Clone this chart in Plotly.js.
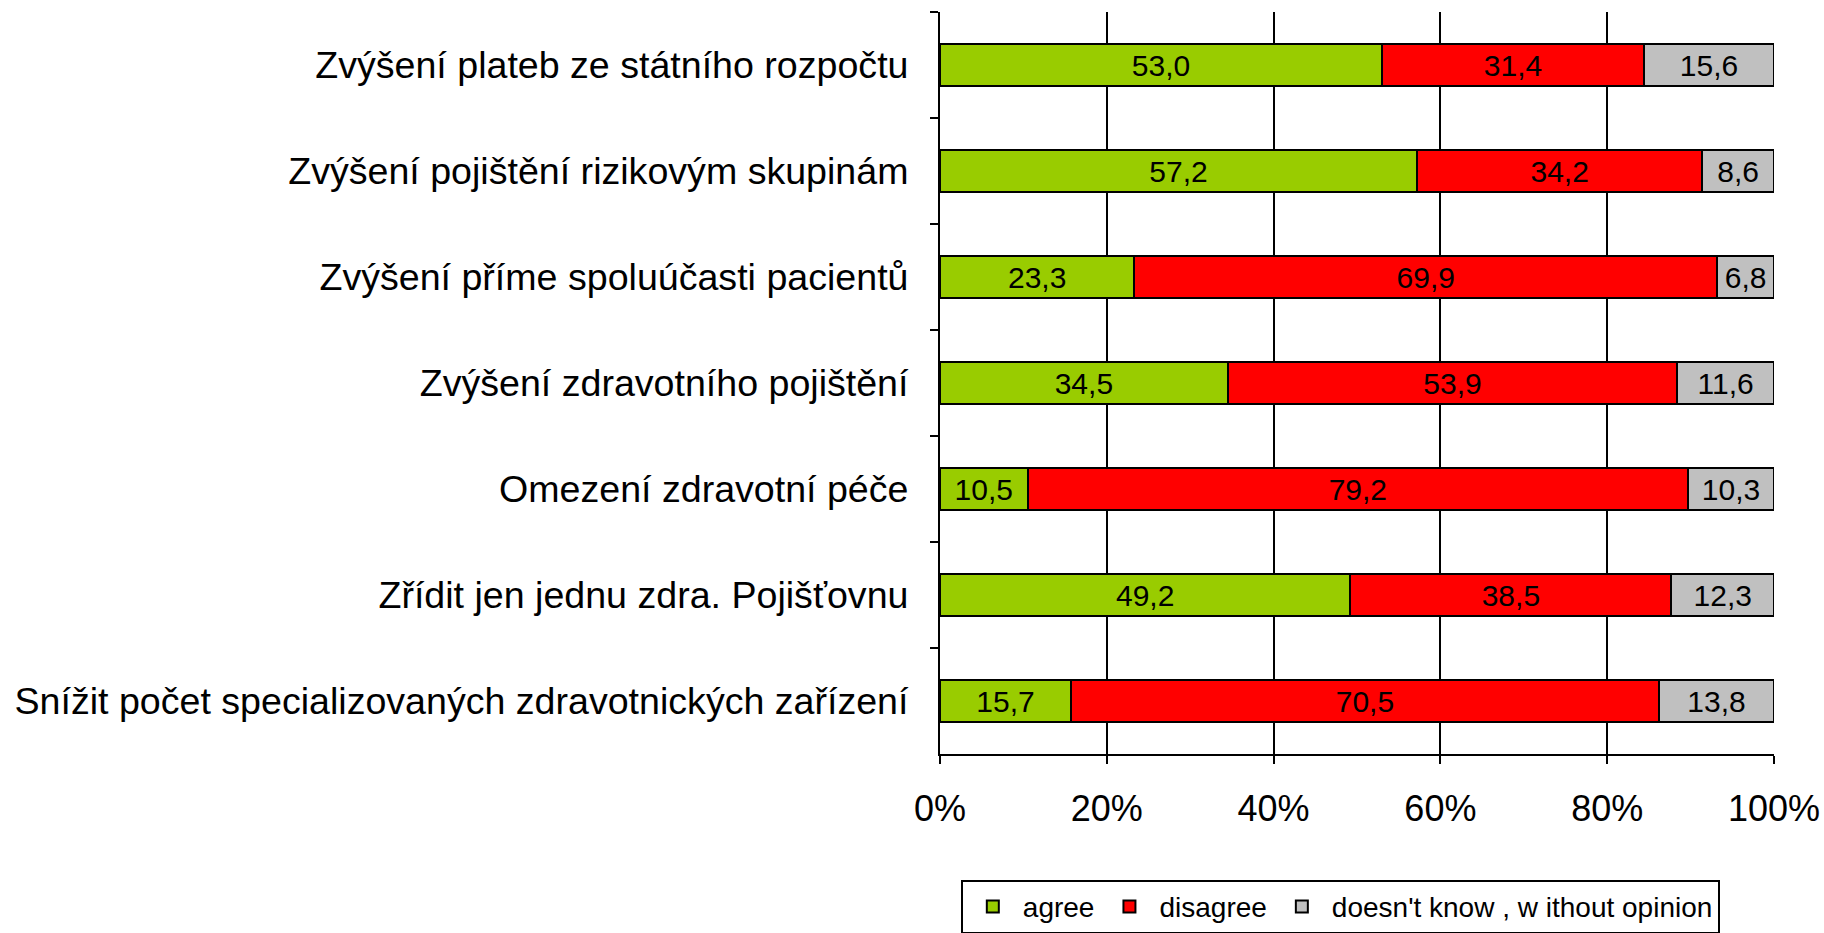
<!DOCTYPE html>
<html>
<head>
<meta charset="utf-8">
<script src="https://cdn.plot.ly/plotly-3.0.1.min.js"></script>
<style>html,body{margin:0;padding:0;background:#fff;}#chart{width:1824px;height:933px;}</style>
</head>
<body>
<div id="chart"></div>
<script>
const categories = [
  "Zvýšení plateb ze státního rozpočtu",
  "Zvýšení pojištění rizikovým skupinám",
  "Zvýšení příme spoluúčasti pacientů",
  "Zvýšení zdravotního pojištění",
  "Omezení zdravotní péče",
  "Zřídit jen jednu zdra. Pojišťovnu",
  "Snížit počet specializovaných zdravotnických zařízení"
];
const agree = [53.0, 57.2, 23.3, 34.5, 10.5, 49.2, 15.7];
const disagree = [31.4, 34.2, 69.9, 53.9, 79.2, 38.5, 70.5];
const dontKnow = [15.6, 8.6, 6.8, 11.6, 10.3, 12.3, 13.8];
const seriesNames = ["agree", "disagree", "doesn't know , w ithout opinion"];
const xTickVals = [0, 20, 40, 60, 80, 100];

const fmt = v => v.toFixed(1).replace('.', ',');
const colors = ["#99CC00", "#FF0000", "#C0C0C0"];
const FONT = "Liberation Sans, Arial, sans-serif";

const traces = [agree, disagree, dontKnow].map((vals, i) => ({
  type: 'bar',
  orientation: 'h',
  name: seriesNames[i],
  y: categories,
  x: vals,
  text: vals.map(fmt),
  textposition: 'inside',
  insidetextanchor: 'middle',
  textangle: 0,
  constraintext: 'none',
  textfont: {family: FONT, size: 30, color: '#000'},
  hoverinfo: 'none',
  marker: {color: colors[i], line: {color: '#000', width: 2}}
}));

const layout = {
  width: 1824, height: 933,
  margin: {l: 940, r: 50, t: 12, b: 179},
  paper_bgcolor: '#fff', plot_bgcolor: '#fff',
  barmode: 'stack',
  bargap: 0.6,
  font: {family: FONT, color: '#000'},
  showlegend: true,
  legend: {
    orientation: 'h', xref: 'paper', x: 0.48, xanchor: 'center',
    yref: 'container', y: 0.028, yanchor: 'middle',
    bordercolor: '#000', borderwidth: 2, bgcolor: '#fff',
    font: {family: FONT, size: 28, color: '#000'},
    traceorder: 'normal', itemwidth: 50
  },
  xaxis: {
    range: [0, 100], tickvals: xTickVals, ticktext: xTickVals.map(v => v + '%'),
    showgrid: true, gridcolor: '#000', gridwidth: 2,
    showline: true, linecolor: '#000', linewidth: 2,
    ticks: 'outside', ticklen: 8, tickwidth: 2, tickcolor: '#000',
    ticklabelstandoff: 14,
    tickfont: {family: FONT, size: 36, color: '#000'},
    zeroline: false, fixedrange: true
  },
  yaxis: {
    type: 'category', autorange: 'reversed',
    showline: true, linecolor: '#000', linewidth: 2,
    ticks: 'outside', tickson: 'boundaries', ticklen: 8, tickwidth: 2, tickcolor: '#000',
    ticklabelstandoff: 22,
    tickfont: {family: FONT, size: 37.6, color: '#000'},
    showgrid: false, zeroline: false, fixedrange: true
  }
};

Plotly.newPlot('chart', traces, layout, {displayModeBar: false, staticPlot: true});
</script>
</body>
</html>
